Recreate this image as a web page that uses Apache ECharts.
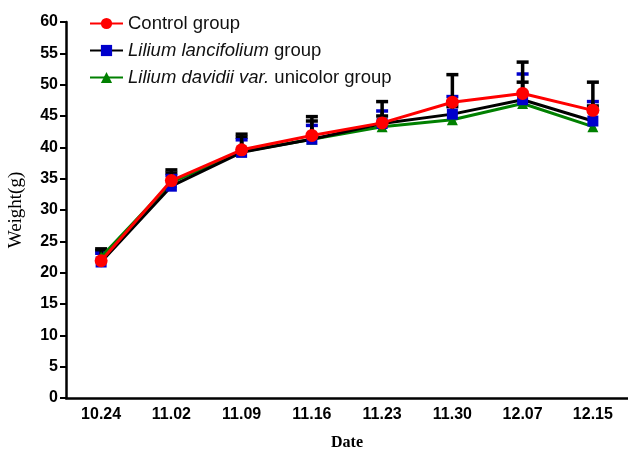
<!DOCTYPE html>
<html><head><meta charset="utf-8">
<script src="https://cdn.jsdelivr.net/npm/echarts@6/dist/echarts.min.js"></script>
<style>html,body{margin:0;padding:0;background:#fff}#c{width:628px;height:451px}</style>
</head><body><div id="c"></div>
<script>
var categories = ['10.24','11.02','11.09','11.16','11.23','11.30','12.07','12.15'];
var yTicks = [0,5,10,15,20,25,30,35,40,45,50,55,60];
var controlMean = [21.9, 34.7, 39.6, 41.9, 43.9, 47.2, 48.6, 45.9];
var controlUpper = [23.8, 36.4, 42.1, 44.9, 47.3, 51.6, 53.6, 50.4];
var lanciMean = [21.7, 33.8, 39.2, 41.3, 43.8, 45.3, 47.6, 44.2];
var lanciUpper = [23.1, 35.5, 41.2, 43.5, 45.8, 48.1, 51.7, 47.3];
var davidMean = [22.5, 34.4, 39.3, 41.3, 43.3, 44.4, 47.0, 43.3];
var davidUpper = [23.5, 35.9, 41.6, 44.2, 45.0, 46.5, 50.4, 46.6];
var names = ['Control group','Lilium lancifolium group','Lilium davidii var. unicolor group'];

function errSeries(upper, mean, stemColor, capColor, z) {
  var data = upper.map(function (u, i) { return [i, mean[i], u]; });
  return {
    type: 'custom', z: z, silent: true,
    data: data,
    renderItem: function (params, api) {
      var p0 = api.coord([api.value(0), api.value(1)]);
      var p1 = api.coord([api.value(0), api.value(2)]);
      return { type: 'group', children: [
        { type: 'line', shape: { x1: p0[0], y1: p0[1], x2: p1[0], y2: p1[1] }, style: { stroke: stemColor, lineWidth: 3.5 } },
        { type: 'line', shape: { x1: p1[0] - 6, y1: p1[1], x2: p1[0] + 6, y2: p1[1] }, style: { stroke: capColor, lineWidth: 3.5 } }
      ]};
    }
  };
}

var chart = echarts.init(document.getElementById('c'));
chart.setOption({
  animation: false,
  grid: { left: 66, right: 0, top: 22, bottom: 53, outerBoundsMode: 'none', containLabel: false },
  legend: {
    orient: 'vertical', left: 84, top: 9, itemGap: 8, itemWidth: 33, itemHeight: 14,
    textStyle: { fontFamily: 'Liberation Sans, Arial', fontSize: 18.5, color: '#111',
      rich: { i: { fontFamily: 'Liberation Sans, Arial', fontSize: 18.5, fontStyle: 'italic', color: '#111' } } },
    formatter: function (n) {
      if (n === names[1]) return '{i|Lilium lancifolium} group';
      if (n === names[2]) return '{i|Lilium davidii var.} unicolor group';
      return n;
    },
    data: names
  },
  xAxis: {
    type: 'category', data: categories, boundaryGap: true,
    name: 'Date', nameLocation: 'middle', nameGap: 37,
    nameTextStyle: { fontFamily: 'Liberation Serif, Times New Roman', fontWeight: 'bold', fontSize: 16, color: '#000' },
    axisLine: { lineStyle: { color: '#000', width: 2.5 } },
    axisTick: { alignWithLabel: true, length: 6, lineStyle: { width: 2, color: '#000' } },
    axisLabel: { fontFamily: 'Liberation Sans, Arial', fontWeight: 'bold', fontSize: 16, color: '#000', margin: 9 }
  },
  yAxis: {
    type: 'value', min: 0, max: 60, interval: 5,
    name: 'Weight(g)', nameLocation: 'middle', nameGap: 40, nameRotate: 90,
    nameTextStyle: { fontFamily: 'Liberation Serif, Times New Roman', fontSize: 19, color: '#000' },
    splitLine: { show: false },
    axisLine: { show: true, lineStyle: { color: '#000', width: 2.5 } },
    axisTick: { show: true, length: 6, lineStyle: { width: 2, color: '#000' } },
    axisLabel: { fontFamily: 'Liberation Sans, Arial', fontWeight: 'bold', fontSize: 16, color: '#000', margin: 8,
      formatter: function (v) { return yTicks.indexOf(v) >= 0 ? String(v) : ''; } }
  },
  series: [
    errSeries(davidUpper, davidMean, '#000', '#000', 1),
    errSeries(lanciUpper, lanciMean, '#000', '#0000cc', 1),
    errSeries(controlUpper, controlMean, '#000', '#000', 1),
    { name: names[2], type: 'line', data: davidMean, z: 2, symbol: 'triangle', symbolSize: 11,
      lineStyle: { color: '#008000', width: 3 }, itemStyle: { color: '#008000' } },
    { name: names[1], type: 'line', data: lanciMean, z: 3, symbol: 'rect', symbolSize: 11,
      lineStyle: { color: '#000', width: 3 }, itemStyle: { color: '#0000cc' } },
    { name: names[0], type: 'line', data: controlMean, z: 4, symbol: 'circle', symbolSize: 13,
      lineStyle: { color: '#ff0000', width: 3 }, itemStyle: { color: '#ff0000' } }
  ]
});
</script></body></html>
